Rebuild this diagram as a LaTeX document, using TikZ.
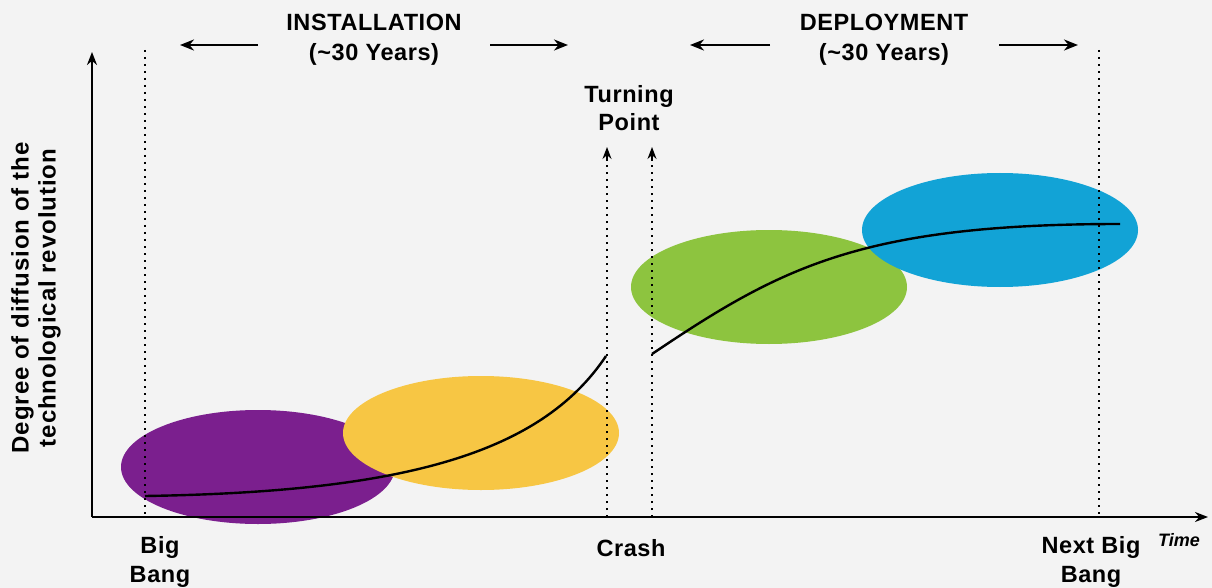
\documentclass[tikz,border=0pt]{standalone}
\usepackage{fontspec}
\setmainfont{Liberation Sans}
\usetikzlibrary{arrows.meta}
\definecolor{bgc}{HTML}{F3F3F3}
\definecolor{purp}{HTML}{7B1F8E}
\definecolor{yell}{HTML}{F7C644}
\definecolor{gree}{HTML}{8DC43F}
\definecolor{blu}{HTML}{12A3D6}
\tikzset{
  lbl/.style={font=\fontsize{23.5}{29}\selectfont\bfseries\addfontfeatures{LetterSpace=2.5}, align=center, inner sep=0pt},
  dotl/.style={line width=1.6pt, dash pattern=on 1.6pt off 5.4pt},
  axis/.style={line width=2.4pt, -{Stealth[length=13pt,width=10pt]}},
  harr/.style={line width=2.2pt, -{Stealth[length=14pt,width=11pt]}},
  curve/.style={line width=2.4pt}
}
\begin{document}
\begin{tikzpicture}[x=1pt,y=-1pt]
\fill[bgc] (0,0) rectangle (1212,588);
\useasboundingbox (0,0) rectangle (1212,588);
% ellipses
\fill[purp] (258,467) ellipse (137 and 57);
\fill[yell] (481,433) ellipse (138 and 57);
\fill[gree] (769,287) ellipse (138 and 57);
\fill[blu] (1000,230) ellipse (138 and 57);
% coordinates
\coordinate (o) at (92,517);
\coordinate (ytop) at (92,52);
\coordinate (xend) at (1208,517);
\coordinate (bb0) at (145,50);
\coordinate (bb1) at (145,517);
\coordinate (cr0) at (607,147);
\coordinate (cr1) at (607,517);
\coordinate (tp0) at (652,147);
\coordinate (tp1) at (652,517);
\coordinate (nb0) at (1099,50);
\coordinate (nb1) at (1099,517);
% dotted lines
\draw[dotl] (bb0) -- (bb1);
\draw[dotl] (nb0) -- (nb1);
\draw[dotl] (cr1) -- ([yshift=-12]cr0);
\draw[dotl] (tp1) -- ([yshift=-12]tp0);
\draw[line width=1.2pt, -{Stealth[length=12pt,width=9pt]}] ([yshift=-14]cr0) -- (cr0);
\draw[line width=1.2pt, -{Stealth[length=12pt,width=9pt]}] ([yshift=-14]tp0) -- (tp0);
% axes
\draw[axis] (o) -- (ytop);
\draw[axis] (o) -- (xend);
% curves
\coordinate (c1a) at (145,496);
\coordinate (c1b) at (606,356);
\coordinate (c2a) at (652,354);
\coordinate (c2b) at (1120,224);
\draw[curve] (c1a) .. controls (400,492) and (540,455) .. (c1b);
\draw[curve] (c2a) .. controls (780,268) and (860,224) .. (c2b);
% top labels
\node[lbl, font=\fontsize{23.5}{30}\selectfont\bfseries\addfontfeatures{LetterSpace=2.5}] (inst) at (374,40) {INSTALLATION\\({\char"7E}30 Years)};
\node[lbl, font=\fontsize{23.5}{30}\selectfont\bfseries\addfontfeatures{LetterSpace=2.5}] (depl) at (884,40) {DEPLOYMENT\\({\char"7E}30 Years)};
\node[lbl, font=\fontsize{23.5}{28}\selectfont\bfseries\addfontfeatures{LetterSpace=2.5}] (turn) at (629,108) {Turning\\Point};
\coordinate (ia0) at (258,45); \coordinate (ia1) at (180,45);
\coordinate (ib0) at (490,45); \coordinate (ib1) at (568,45);
\coordinate (da0) at (770,45); \coordinate (da1) at (690,45);
\coordinate (db0) at (999,45); \coordinate (db1) at (1078,45);
\draw[harr] (ia0) -- (ia1);
\draw[harr] (ib0) -- (ib1);
\draw[harr] (da0) -- (da1);
\draw[harr] (db0) -- (db1);
% bottom labels
\node[lbl] (bigbang) at (160,562) {Big\\Bang};
\node[lbl] (crash) at (631,548) {Crash};
\node[lbl] (nextbb) at (1091,562) {Next Big\\Bang};
\node[inner sep=0pt, font=\fontsize{18}{20}\selectfont\bfseries\itshape] (time) at (1179,540) {Time};
% y label
\node[lbl, rotate=90, font=\fontsize{24}{27}\selectfont\bfseries\addfontfeatures{LetterSpace=4}] (ylab) at (36,298) {Degree of diffusion of the\\technological revolution};
\end{tikzpicture}
\end{document}
